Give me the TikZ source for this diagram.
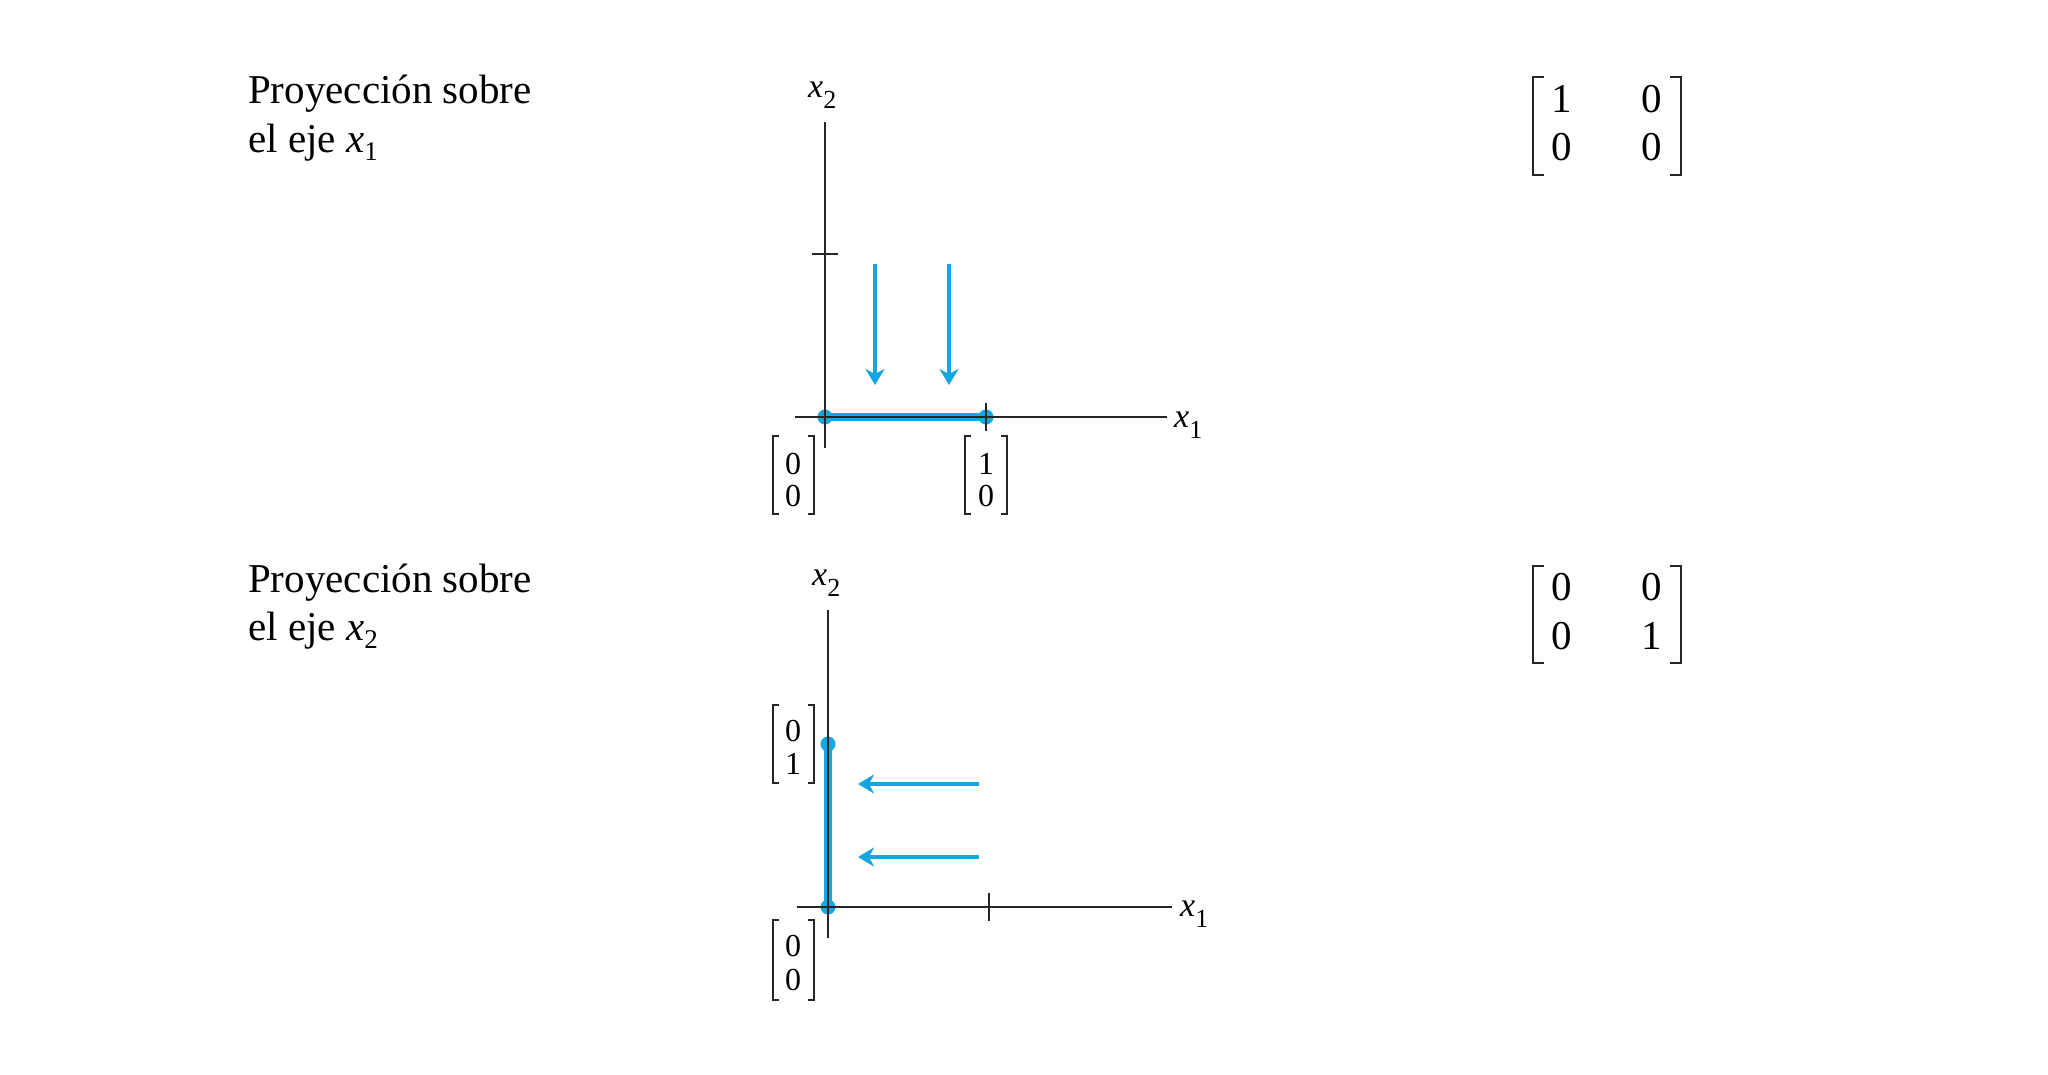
\documentclass[tikz,border=0pt]{standalone}
\usepackage{fontspec}
\setmainfont{Liberation Serif}
\usetikzlibrary{arrows.meta}
\definecolor{projblue}{RGB}{22,166,226}
\newcommand\mybrackets[4]{%
  \draw[brk] ({#1+6},#3) -- (#1,#3) -- (#1,#4) -- ({#1+6},#4);
  \draw[brk] ({#2-6},#3) -- (#2,#3) -- (#2,#4) -- ({#2-6},#4);}
\newcommand\mbrackets[4]{%
  \draw[brk] ({#1+11},#3) -- (#1,#3) -- (#1,#4) -- ({#1+11},#4);
  \draw[brk] ({#2-11},#3) -- (#2,#3) -- (#2,#4) -- ({#2-11},#4);}
\begin{document}
\begin{tikzpicture}[x=1pt,y=-1pt,
  axis/.style={line width=2.5pt, black!85},
  tickmark/.style={line width=2pt, black!85},
  proj/.style={projblue, line width=4pt, -{Stealth[length=16pt,width=19pt,inset=5pt]}},
  seg/.style={projblue, line width=8pt},
  dot/.style={circle, fill=projblue, inner sep=0pt, minimum size=15pt},
  lbl/.style={anchor=base west, inner sep=0pt, font=\fontsize{41}{49}\selectfont},
  ent/.style={anchor=base, inner sep=0pt, font=\fontsize{41}{49}\selectfont},
  vent/.style={anchor=base, inner sep=0pt, font=\fontsize{32}{32}\selectfont},
  axl/.style={anchor=base west, inner sep=0pt, font=\fontsize{34}{34}\selectfont},
  brk/.style={line width=2pt, black!85}]
\useasboundingbox (0,0) rectangle (2048,1074);

% ---------- labels ----------
\node[lbl] (t1a) at (248,103) {Proyección sobre};
\node[lbl] (t1b) at (248,152) {el eje \textit{x}\raisebox{-8pt}{\fontsize{27}{27}\selectfont 1}};
\node[lbl] (t2a) at (248,592) {Proyección sobre};
\node[lbl] (t2b) at (248,640) {el eje \textit{x}\raisebox{-8pt}{\fontsize{27}{27}\selectfont 2}};

% ---------- matrices ----------
\node[ent] (m1a) at (1562,112) {1};
\node[ent] (m1b) at (1652,112) {0};
\node[ent] (m1c) at (1562,160) {0};
\node[ent] (m1d) at (1652,160) {0};
\mbrackets{1533}{1681}{77}{175}
\node[ent] (m2a) at (1562,600) {0};
\node[ent] (m2b) at (1652,600) {0};
\node[ent] (m2c) at (1562,649) {0};
\node[ent] (m2d) at (1652,649) {1};
\mbrackets{1533}{1681}{566}{663}

% ---------- upper plot ----------
\coordinate (u1s) at (875,264); \coordinate (u1e) at (875,385);
\coordinate (u2s) at (949,264); \coordinate (u2e) at (949,385);
\draw[proj] (u1s) -- (u1e);
\draw[proj] (u2s) -- (u2e);
\node[dot] (p0) at (825,417) {};
\node[dot] (p1) at (986,417) {};
\draw[seg] (p0.center) -- (p1.center);
\coordinate (ya1) at (825,122); \coordinate (ya2) at (825,448);
\coordinate (xa1) at (795,417); \coordinate (xa2) at (1167,417);
\draw[axis] (ya1) -- (ya2);
\draw[axis] (xa1) -- (xa2);
\coordinate (ty1) at (812,254); \coordinate (ty2) at (838,254);
\draw[tickmark] (ty1) -- (ty2);
\coordinate (tx1) at (986,403); \coordinate (tx2) at (986,431);
\draw[tickmark] (tx1) -- (tx2);
\node[axl] (ux2) at (808,97) {\textit{x}\raisebox{-11pt}{\fontsize{26}{26}\selectfont 2}};
\node[axl] (ux1) at (1174,427) {\textit{x}\raisebox{-11pt}{\fontsize{26}{26}\selectfont 1}};
\node[vent] (v1a) at (793,474) {0};
\node[vent] (v1b) at (793,506) {0};
\mybrackets{773}{814}{436}{514}
\node[vent] (v2a) at (986,474) {1};
\node[vent] (v2b) at (986,506) {0};
\mybrackets{965}{1007}{436}{514}

% ---------- lower plot ----------
\coordinate (l1s) at (979,784); \coordinate (l1e) at (858,784);
\coordinate (l2s) at (979,857); \coordinate (l2e) at (858,857);
\draw[proj] (l1s) -- (l1e);
\draw[proj] (l2s) -- (l2e);
\node[dot] (q0) at (828,907) {};
\node[dot] (q1) at (828,744) {};
\draw[seg] (q0.center) -- (q1.center);
\coordinate (yb1) at (828,610); \coordinate (yb2) at (828,938);
\coordinate (xb1) at (797,907); \coordinate (xb2) at (1172,907);
\draw[axis] (yb1) -- (yb2);
\draw[axis] (xb1) -- (xb2);
\coordinate (tb1) at (989,893); \coordinate (tb2) at (989,921);
\draw[tickmark] (tb1) -- (tb2);
\node[axl] (lx2) at (812,585) {\textit{x}\raisebox{-11pt}{\fontsize{26}{26}\selectfont 2}};
\node[axl] (lx1) at (1180,916) {\textit{x}\raisebox{-11pt}{\fontsize{26}{26}\selectfont 1}};
\node[vent] (w1a) at (793,741) {0};
\node[vent] (w1b) at (793,774) {1};
\mybrackets{773}{814}{705}{783}
\node[vent] (w2a) at (793,956) {0};
\node[vent] (w2b) at (793,990) {0};
\mybrackets{773}{814}{920}{1000}
\end{tikzpicture}
\end{document}
